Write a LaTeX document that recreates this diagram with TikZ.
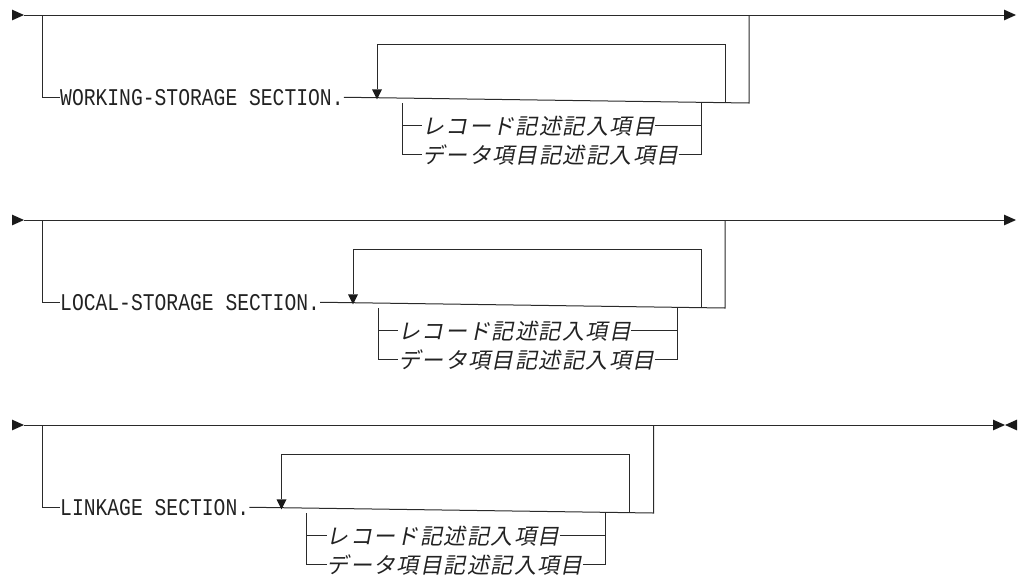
\documentclass[tikz,border=0pt]{standalone}
\usepackage{fontspec}
\newfontfamily\kwfont[FakeStretch=0.82]{Liberation Mono}
\newfontfamily\jpfont[FakeSlant=0.2,LetterSpace=6.5]{Noto Sans CJK JP}
\definecolor{linecol}{HTML}{2A2A2A}
\definecolor{tipcol}{HTML}{1A1A1A}
\definecolor{textcol}{HTML}{222222}
\tikzset{
  rail/.style={line width=1pt, draw=linecol},
  kw/.style={font=\kwfont\fontsize{24}{28}\selectfont, inner sep=0pt, anchor=mid west, text=textcol},
  jp/.style={font=\jpfont\fontsize{22}{26}\selectfont, inner sep=0pt, anchor=mid west, text=textcol},
  tipr/.style={fill=tipcol},
}
\begin{document}
\begin{tikzpicture}[x=1pt,y=-1pt]
\useasboundingbox (0,0) rectangle (1019,582);
\foreach \i/\kwtext/\dx/\yo/\ex in {1/WORKING-STORAGE SECTION./24/15/1004, 2/LOCAL-STORAGE SECTION./0/220/1004, 3/LINKAGE SECTION./-71.5/425/993} {
  % main line
  \coordinate (s\i) at (24,\yo);
  \coordinate (e\i) at (\ex,\yo);
  \coordinate (b\i) at (42,\yo);
  \node[kw] (k\i) at (60,{\yo+88}) {\kwtext};
  \coordinate (ot\i) at ({725+(\dx)},\yo);
  \coordinate (ob\i) at ({725+(\dx)},{\yo+88});
  % loop
  \coordinate (lr\i) at ({701+(\dx)},{\yo+88});
  \coordinate (la\i) at ({353+(\dx)},{\yo+29});
  \coordinate (lah\i) at ({353+(\dx)},{\yo+74.3});
  \coordinate (lat\i) at ({353+(\dx)},{\yo+84.3});
  % choice
  \coordinate (cl\i) at ({378+(\dx)},{\yo+88});
  \coordinate (cr\i) at ({677+(\dx)},{\yo+88});
  \node[jp] (ja\i) at ({398+(\dx)},{\yo+117}) {レコード記述記入項目};
  \node[jp] (jb\i) at ({398+(\dx)},{\yo+146}) {データ項目記述記入項目};
  % drawing
  \draw[rail] (s\i) -- (e\i);
  \fill[tipr] (12,{\yo-5.4}) -- (s\i) -- (12,{\yo+5.4}) -- cycle;
  \fill[tipr] ([yshift=-5.4pt]e\i) -- ([xshift=12pt]e\i) -- ([yshift=5.4pt]e\i) -- cycle;
  \draw[rail] (b\i) |- (k\i.west);
  \draw[rail] (k\i.east) -- (ob\i) -- (ot\i);
  \draw[rail] (lr\i) |- (la\i) -- (lah\i);
  \fill[tipr] ([xshift=-5pt]lah\i) -- (lat\i) -- ([xshift=5pt]lah\i) -- cycle;
  \draw[rail] (cl\i) |- (jb\i.west);
  \draw[rail] (cl\i |- ja\i.west) -- (ja\i.west);
  \draw[rail] (ja\i.east) -- (cr\i |- ja\i.east);
  \draw[rail] (jb\i.east) -| (cr\i);
}
\coordinate (ee3) at (1017,425);
\fill[tipr] (1017,419.6) -- (1005,425) -- (1017,430.4) -- cycle;
\end{tikzpicture}
\end{document}
